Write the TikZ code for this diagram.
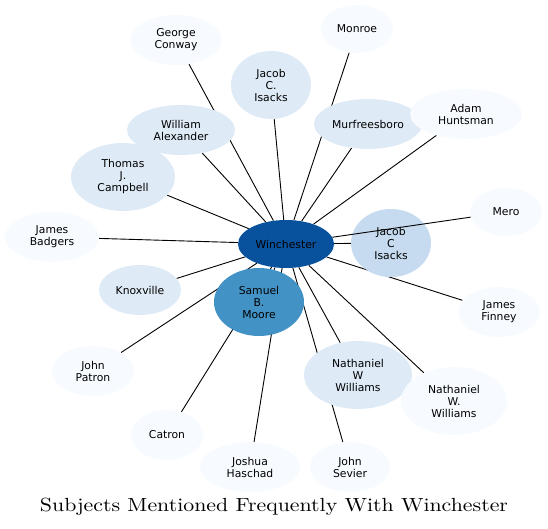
\documentclass[tikz,border=0pt]{standalone}
\usepackage{fontspec}
\setmainfont{DejaVu Sans}
\newfontfamily\titlefont{lmroman10-regular.otf}
\usetikzlibrary{shapes.geometric,backgrounds}

\definecolor{bluedark}{HTML}{08519C}
\definecolor{bluemid}{HTML}{4292C6}
\definecolor{bluelight}{HTML}{C6DBEF}
\definecolor{bluepale}{HTML}{DEEBF7}
\definecolor{bluefaint}{HTML}{F7FBFF}

\begin{document}
\begin{tikzpicture}[x=1pt,y=-1pt,
    subject/.style={ellipse,inner sep=0pt,align=center,text=black,
        font=\fontsize{10.8}{12}\selectfont},
    link/.style={draw=black,line width=0.9pt}]
\useasboundingbox (0,0) rectangle (548,529);

% the centre and its neighbours
\node[subject,fill=bluedark,minimum width=96pt,minimum height=48pt] (winchester) at (286,244) {Winchester};
\node[subject,fill=bluemid,minimum width=90pt,minimum height=68pt] (moore) at (259,302) {Samuel\\B.\\Moore};
\node[subject,fill=bluelight,minimum width=80pt,minimum height=68pt] (jacob) at (391,243) {Jacob\\C\\Isacks};
\node[subject,fill=bluepale,minimum width=80pt,minimum height=68pt] (jacobdot) at (271,85) {Jacob\\C.\\Isacks};
\node[subject,fill=bluepale,minimum width=108pt,minimum height=50pt] (murfreesboro) at (368,124) {Murfreesboro};
\node[subject,fill=bluepale,minimum width=108pt,minimum height=50pt] (alexander) at (181,130) {William\\Alexander};
\node[subject,fill=bluepale,minimum width=104pt,minimum height=68pt] (campbell) at (123,177) {Thomas\\J.\\Campbell};
\node[subject,fill=bluepale,minimum width=82pt,minimum height=50pt] (knoxville) at (140,290) {Knoxville};
\node[subject,fill=bluepale,minimum width=108pt,minimum height=68pt] (nathaniel) at (358,375) {Nathaniel\\W\\Williams};

% the faint ones
\node[subject,fill=bluefaint,minimum width=92pt,minimum height=50pt] (conway) at (176,40) {George\\Conway};
\node[subject,fill=bluefaint,minimum width=72pt,minimum height=48pt] (monroe) at (357,29) {Monroe};
\node[subject,fill=bluefaint,minimum width=112pt,minimum height=50pt] (huntsman) at (466,114) {Adam\\Huntsman};
\node[subject,fill=bluefaint,minimum width=94pt,minimum height=50pt] (badgers) at (52,237) {James\\Badgers};
\node[subject,fill=bluefaint,minimum width=72pt,minimum height=48pt] (mero) at (506,212) {Mero};
\node[subject,fill=bluefaint,minimum width=82pt,minimum height=50pt] (finney) at (499,312) {James\\Finney};
\node[subject,fill=bluefaint,minimum width=82pt,minimum height=50pt] (patron) at (93,371) {John\\Patron};
\node[subject,fill=bluefaint,minimum width=106pt,minimum height=68pt] (nathanieldot) at (454,401) {Nathaniel\\W.\\Williams};
\node[subject,fill=bluefaint,minimum width=72pt,minimum height=50pt] (catron) at (167,435) {Catron};
\node[subject,fill=bluefaint,minimum width=100pt,minimum height=50pt] (haschad) at (250,467) {Joshua\\Haschad};
\node[subject,fill=bluefaint,minimum width=80pt,minimum height=50pt] (sevier) at (350,467) {John\\Sevier};

\begin{scope}[on background layer]
\foreach \n in {moore,jacob,jacobdot,murfreesboro,alexander,campbell,knoxville,nathaniel,
    conway,monroe,huntsman,badgers,finney,patron,nathanieldot,catron,haschad,sevier}
    \draw[link] (winchester) -- (\n);
\end{scope}
\draw[link] (winchester) -- (mero);

\node[font=\titlefont\fontsize{19}{21}\selectfont,xscale=1.15,transform shape] (title) at (274,507) {Subjects Mentioned Frequently With Winchester};
\end{tikzpicture}
\end{document}
